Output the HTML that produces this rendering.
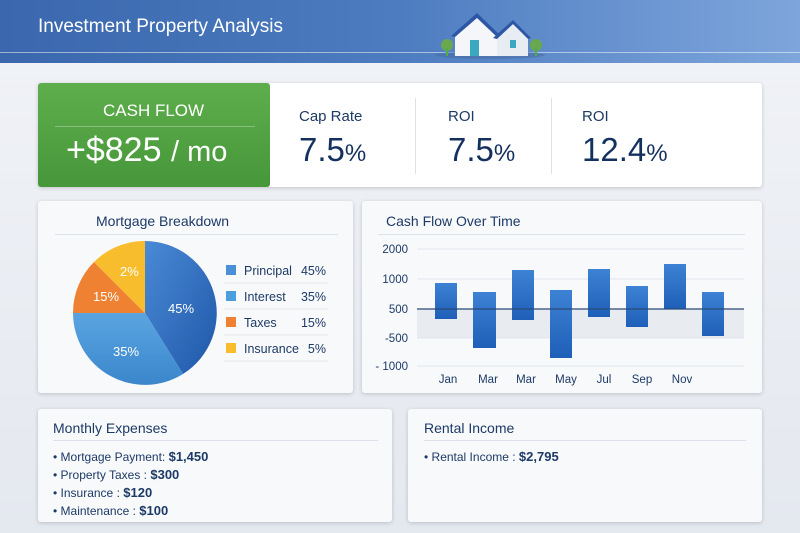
<!DOCTYPE html>
<html><head><style>
*{margin:0;padding:0;box-sizing:border-box}
body{width:800px;height:533px;overflow:hidden;background:linear-gradient(#f1f3f7,#e4e8ef);font-family:"Liberation Sans",sans-serif;position:relative;color:#1d3a66}
.hdr{position:absolute;left:0;top:0;width:800px;height:63px;background:linear-gradient(90deg,#3a67ad,#4d7cc0 50%,#7ea6dc)}
.hdr .line{position:absolute;left:0;top:52px;width:800px;height:1px;background:rgba(255,255,255,.5)}
.title{position:absolute;left:38px;top:16px;color:#fff;font-size:19px}
.card{position:absolute;background:#f8f9fb;border-radius:3px;box-shadow:0 1px 4px rgba(0,0,0,.18)}
.abs{position:absolute}
.ptitle{font-size:14px;color:#1d3a66}
.hr{position:absolute;height:1px;background:#dde2ea}
.kl{font-size:15px;color:#1d3a66}
.kv{font-size:33px;color:#14305e}
.kv small{font-size:24px}
.li{position:absolute;font-size:12px;color:#1d3a66}
.li b{font-size:13px}
</style></head><body>
<div class="hdr"><div class="line"></div></div>
<div class="title">Investment Property Analysis</div>
<svg class="abs" style="left:425px;top:12px" width="130" height="50">
<ellipse cx="65" cy="43" rx="55" ry="4" fill="#4468a0" opacity=".5"/>
<circle cx="22" cy="33" r="6" fill="#6aa84f"/><rect x="21" y="36" width="2" height="8" fill="#5a4"/>
<circle cx="111" cy="33" r="6" fill="#6aa84f"/><rect x="110" y="36" width="2" height="8" fill="#5a4"/>
<polygon points="30,22 52,4 72,22 72,44 30,44" fill="#f4f6fa"/>
<polygon points="26,24 52,1 76,24 72,25 52,6 30,25" fill="#2d57a5"/>
<polygon points="72,26 88,12 103,26 103,44 72,44" fill="#e8edf4"/>
<polygon points="68,26 88,8 106,26 103,27 88,12 72,27" fill="#2d57a5"/>
<rect x="45" y="28" width="9" height="16" fill="#3aa8c0"/><rect x="85" y="28" width="6" height="8" fill="#3aa8c0"/>
</svg>

<div class="card" style="left:38px;top:83px;width:724px;height:104px;background:#fff"></div>
<div class="abs" style="left:38px;top:83px;width:232px;height:104px;background:linear-gradient(#5fae4d,#46973a);border-radius:3px"></div>
<div class="abs" style="left:103px;top:101px;color:#fff;font-size:17px">CASH FLOW</div>
<div class="hr" style="left:55px;top:126px;width:200px;background:rgba(255,255,255,.3)"></div>
<div class="abs" style="left:66px;top:131px;color:#fff;font-size:34px">+$825 <span style="font-size:29px">/ mo</span></div>
<div class="hr" style="left:415px;top:98px;width:1px;height:76px"></div>
<div class="hr" style="left:551px;top:98px;width:1px;height:76px"></div>
<div class="abs kl" style="left:299px;top:108px">Cap Rate</div>
<div class="abs kv" style="left:299px;top:131px">7.5<small>%</small></div>
<div class="abs kl" style="left:448px;top:108px">ROI</div>
<div class="abs kv" style="left:448px;top:131px">7.5<small>%</small></div>
<div class="abs kl" style="left:582px;top:108px">ROI</div>
<div class="abs kv" style="left:582px;top:131px">12.4<small>%</small></div>

<div class="card" style="left:38px;top:201px;width:315px;height:192px"></div>
<div class="abs ptitle" style="left:96px;top:213px">Mortgage Breakdown</div>
<div class="hr" style="left:55px;top:234px;width:283px"></div>
<svg class="abs" style="left:0;top:0" width="800" height="533">
<defs>
<linearGradient id="g1" x1="0" y1="0" x2="1" y2="1"><stop offset="0" stop-color="#4a8ad6"/><stop offset="1" stop-color="#1f57a8"/></linearGradient>
<linearGradient id="g2" x1="0" y1="0" x2="0" y2="1"><stop offset="0" stop-color="#5aa5e0"/><stop offset="1" stop-color="#3b86cc"/></linearGradient>
<linearGradient id="gb" x1="0" y1="0" x2="0" y2="1"><stop offset="0" stop-color="#3d82d4"/><stop offset="1" stop-color="#1f5fb8"/></linearGradient>
</defs>
<path d="M145,313 L145,241 A72,72 0 0 1 183,374 Z" fill="url(#g1)"/>
<path d="M145,313 L183,374 A72,72 0 0 1 73,313 Z" fill="url(#g2)"/>
<path d="M145,313 L73,313 A72,72 0 0 1 94,262 Z" fill="#ef8232"/>
<path d="M145,313 L94,262 A72,72 0 0 1 145,241 Z" fill="#f8bd2c"/>
<g font-size="13" fill="#fff" font-family="Liberation Sans">
<text x="168" y="313">45%</text><text x="113" y="356">35%</text><text x="93" y="301">15%</text><text x="120" y="276">2%</text></g>
<g font-size="12.5" fill="#1d3a66" font-family="Liberation Sans">
<rect x="226" y="265" width="10" height="10" fill="#4a90d6"/><text x="244" y="275">Principal</text><text x="326" y="275" text-anchor="end">45%</text>
<rect x="226" y="291" width="10" height="10" fill="#4aa0dc"/><text x="244" y="301">Interest</text><text x="326" y="301" text-anchor="end">35%</text>
<rect x="226" y="317" width="10" height="10" fill="#ef8232"/><text x="244" y="327">Taxes</text><text x="326" y="327" text-anchor="end">15%</text>
<rect x="226" y="343" width="10" height="10" fill="#f8bd2c"/><text x="244" y="353">Insurance</text><text x="326" y="353" text-anchor="end">5%</text>
<g stroke="#e3e7ee"><line x1="224" y1="283" x2="328" y2="283"/><line x1="224" y1="309" x2="328" y2="309"/><line x1="224" y1="335" x2="328" y2="335"/><line x1="224" y1="361" x2="328" y2="361"/></g>
</g>
</svg>

<div class="card" style="left:362px;top:201px;width:400px;height:192px"></div>
<div class="abs ptitle" style="left:386px;top:213px">Cash Flow Over Time</div>
<div class="hr" style="left:378px;top:234px;width:367px"></div>
<svg class="abs" style="left:0;top:0" width="800" height="533">
<rect x="417" y="309" width="327" height="29" fill="#e8ebf0"/>
<g stroke="#e1e5ec"><line x1="417" y1="249" x2="744" y2="249"/><line x1="417" y1="279" x2="744" y2="279"/><line x1="417" y1="338" x2="744" y2="338"/><line x1="417" y1="366" x2="744" y2="366"/></g>
<g fill="url(#gb)">
<rect x="435" y="283" width="22" height="36"/><rect x="473" y="292" width="23" height="56"/>
<rect x="512" y="270" width="22" height="50"/><rect x="550" y="290" width="22" height="68"/>
<rect x="588" y="269" width="22" height="48"/><rect x="626" y="286" width="22" height="41"/>
<rect x="664" y="264" width="22" height="45"/><rect x="702" y="292" width="22" height="44"/>
</g>
<line x1="417" y1="309" x2="744" y2="309" stroke="#2a4a78" stroke-width="1.3"/>
<g font-size="11.5" fill="#1d3a66" font-family="Liberation Sans" text-anchor="end">
<text x="408" y="253">2000</text><text x="408" y="283">1000</text><text x="408" y="313">500</text><text x="408" y="342">-500</text><text x="408" y="370">- 1000</text></g>
<g font-size="11.5" fill="#1d3a66" font-family="Liberation Sans" text-anchor="middle">
<text x="448" y="383">Jan</text><text x="488" y="383">Mar</text><text x="526" y="383">Mar</text><text x="566" y="383">May</text><text x="604" y="383">Jul</text><text x="642" y="383">Sep</text><text x="682" y="383">Nov</text></g>
</svg>

<div class="card" style="left:38px;top:409px;width:354px;height:113px"></div>
<div class="abs ptitle" style="left:53px;top:420px">Monthly Expenses</div>
<div class="hr" style="left:53px;top:440px;width:325px"></div>
<div class="li" style="left:53px;top:449px">• Mortgage Payment: <b>$1,450</b></div>
<div class="li" style="left:53px;top:467px">• Property Taxes : <b>$300</b></div>
<div class="li" style="left:53px;top:485px">• Insurance : <b>$120</b></div>
<div class="li" style="left:53px;top:503px">• Maintenance : <b>$100</b></div>

<div class="card" style="left:408px;top:409px;width:354px;height:113px"></div>
<div class="abs ptitle" style="left:424px;top:420px">Rental Income</div>
<div class="hr" style="left:424px;top:440px;width:322px"></div>
<div class="li" style="left:424px;top:449px">• Rental Income : <b>$2,795</b></div>
</body></html>
